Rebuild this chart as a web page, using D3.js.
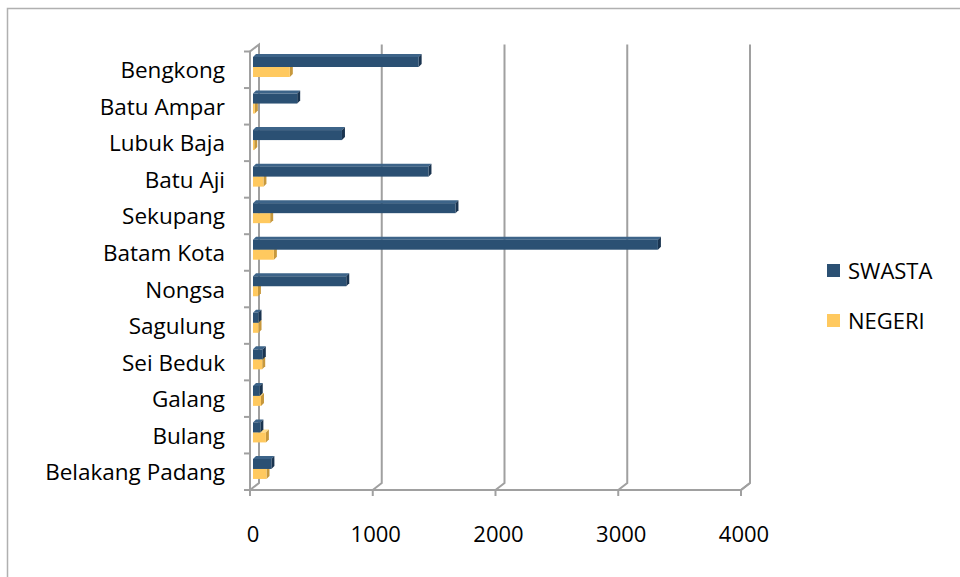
<!DOCTYPE html>
<html>
<head>
<meta charset="utf-8">
<script src="https://cdn.jsdelivr.net/npm/d3@7"></script>
<style>
  body { margin: 0; background: #fff; }
  text { font-family: "Open Sans", "Noto Sans", sans-serif; fill: #000; }
</style>
</head>
<body>
<svg id="chart" width="960" height="577"></svg>
<script>
// data
const categories = ["Bengkong", "Batu Ampar", "Lubuk Baja", "Batu Aji", "Sekupang", "Batam Kota",
  "Nongsa", "Sagulung", "Sei Beduk", "Galang", "Bulang", "Belakang Padang"];
const swasta = [1350, 360, 725, 1430, 1650, 3300, 760, 45, 80, 55, 60, 150];
const negeri = [300, 15, 10, 85, 140, 170, 40, 45, 75, 65, 105, 110];
const seriesNames = ["SWASTA", "NEGERI"];
const xTicks = [0, 1000, 2000, 3000, 4000];

const svg = d3.select("#chart");
const grid = "#a0a0a0";

// outer border (cropped chart area)
svg.append("path").attr("d", "M7.5,577 L7.5,8.5 L960,8.5")
  .attr("fill", "none").attr("stroke", "#b0b0b0").attr("stroke-width", 1.5);

// front plane scales, back wall offset for the 3D look
const x = d3.scaleLinear().domain([0, 4000]).range([250, 741]);
const y = d3.scaleBand().domain(categories).range([51.5, 490]);
const bx = 9, by = -7;        // back wall offset
const floorY = 490;

// back wall gridlines + floor
const g = svg.append("g").attr("fill", "none").attr("stroke", grid).attr("stroke-width", 2);
xTicks.forEach(v => {
  if (v === 0) return;
  g.append("path").attr("d", `M${x(v)+bx},${51.5+by} L${x(v)+bx},${floorY+by} L${x(v)},${floorY}`);
});
// left wall
g.append("path").attr("d", `M${x(0)},${floorY} L${x(0)},51.5 L${x(0)+bx},${51.5+by} L${x(0)+bx},${floorY+by} L${x(0)},${floorY}`);
// floor front edge
g.append("path").attr("d", `M${x(0)},${floorY} L${x(4000)},${floorY} L${x(4000)+bx},${floorY+by}`);
// x ticks
xTicks.forEach(v => {
  g.append("line").attr("x1", x(v)).attr("x2", x(v)).attr("y1", floorY).attr("y2", floorY + 6);
});
// y ticks at category boundaries
categories.forEach(c => {
  g.append("line").attr("x1", x(0) - 6).attr("x2", x(0)).attr("y1", y(c)).attr("y2", y(c));
});
g.append("line").attr("x1", x(0) - 6).attr("x2", x(0)).attr("y1", floorY).attr("y2", floorY);

// x tick labels
svg.append("g").selectAll("text").data(xTicks).join("text")
  .attr("x", d => x(d) + 3).attr("y", 542)
  .attr("text-anchor", "middle").attr("font-size", 22)
  .text(d => d);

// category labels
svg.append("g").selectAll("text").data(categories).join("text")
  .attr("x", 225).attr("y", d => y(d) + y.bandwidth() / 2 + 8.5)
  .attr("text-anchor", "end").attr("font-size", 22.5)
  .text(d => d);

// 3D bars
const dx = 3, dy = -3;      // bar depth
const x0 = x(0) + 3;
const bxScale = d3.scaleLinear().domain([0, 1000]).range([x0, x0 + 122.7]);
const styles = [
  { front: "#2b5073", top: "#3d6489", side: "#1a3450" },
  { front: "#ffc95f", top: "#ffdc8a", side: "#c7983c" }
];
const bars = svg.append("g");
function box(xa, xb, ya, h, s) {
  bars.append("path").attr("fill", s.top)
    .attr("d", `M${xa},${ya} L${xa+dx},${ya+dy} L${xb+dx},${ya+dy} L${xb},${ya} Z`);
  bars.append("path").attr("fill", s.side)
    .attr("d", `M${xb},${ya} L${xb+dx},${ya+dy} L${xb+dx},${ya+h+dy} L${xb},${ya+h} Z`);
  bars.append("rect").attr("x", xa).attr("y", ya).attr("width", Math.max(0.5, xb - xa)).attr("height", h)
    .attr("fill", s.front);
}
categories.forEach((c, i) => {
  const top = y(c) + 5.5;
  box(x0, bxScale(negeri[i]), top + 10, 10, styles[1]);
  box(x0, bxScale(swasta[i]), top, 10, styles[0]);
});

// legend
const leg = svg.append("g");
seriesNames.forEach((n, i) => {
  leg.append("rect").attr("x", 827).attr("y", 264 + i * 50).attr("width", 13).attr("height", 13)
    .attr("fill", styles[i].front);
  leg.append("text").attr("x", 848).attr("y", 279 + i * 50).attr("font-size", 22).text(n);
});
</script>
</body>
</html>
